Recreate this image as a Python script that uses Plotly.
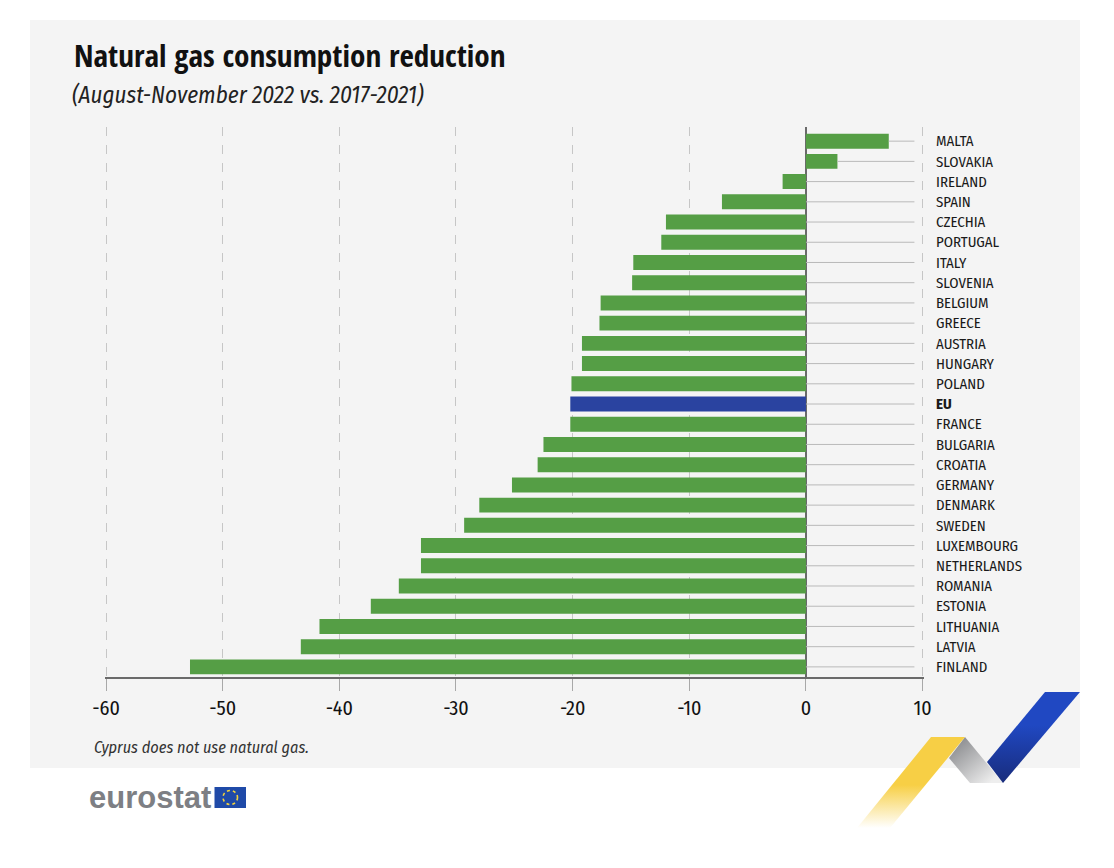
import base64
import plotly.graph_objects as go

categories = ["MALTA", "SLOVAKIA", "IRELAND", "SPAIN", "CZECHIA", "PORTUGAL", "ITALY", "SLOVENIA",
              "BELGIUM", "GREECE", "AUSTRIA", "HUNGARY", "POLAND", "EU", "FRANCE", "BULGARIA",
              "CROATIA", "GERMANY", "DENMARK", "SWEDEN", "LUXEMBOURG", "NETHERLANDS", "ROMANIA",
              "ESTONIA", "LITHUANIA", "LATVIA", "FINLAND"]
values = [7.1, 2.7, -2.0, -7.2, -12.0, -12.4, -14.8, -14.9,
          -17.6, -17.7, -19.2, -19.2, -20.1, -20.2, -20.2, -22.5,
          -23.0, -25.2, -28.0, -29.3, -33.0, -33.0, -34.9,
          -37.3, -41.7, -43.3, -52.8]
x_ticks = [-60, -50, -40, -30, -20, -10, 0, 10]
leader_end = 9.3

W, H = 1114, 868
TITLE_FONT = "Open Sans Condensed"
FONT = "Fira Sans Condensed, Roboto Condensed, sans-serif"
GREEN, BLUE = "#559e45", "#2a43a0"


def px(x):
    return x / W


def py(y):
    return 1 - y / H


bar_colors = [BLUE if c == "EU" else GREEN for c in categories]
tick_text = ["<b>EU</b>" if c == "EU" else c for c in categories]

leader_x, leader_y = [], []
for c, v in zip(categories, values):
    leader_x += [max(v, 0), leader_end, None]
    leader_y += [c, c, None]

fig = go.Figure()
fig.add_trace(go.Scatter(x=leader_x, y=leader_y, mode="lines", hoverinfo="skip",
                         line=dict(color="#b9b9b9", width=1), showlegend=False))
fig.add_trace(go.Bar(x=values, y=categories, orientation="h", marker=dict(color=bar_colors, line_width=0),
                     width=0.74, showlegend=False))

ribbons = f'''<svg xmlns="http://www.w3.org/2000/svg" width="{W}" height="{H}" viewBox="0 0 {W} {H}">
<defs>
<linearGradient id="y" gradientUnits="userSpaceOnUse" x1="0" y1="785" x2="0" y2="828">
<stop offset="0" stop-color="#f7cf45"/><stop offset="1" stop-color="#f7cf45" stop-opacity="0"/></linearGradient>
<linearGradient id="g" gradientUnits="userSpaceOnUse" x1="955" y1="742" x2="990" y2="783">
<stop offset="0" stop-color="#8b8c8f"/><stop offset="1" stop-color="#eeeeee"/></linearGradient>
<linearGradient id="b" gradientUnits="userSpaceOnUse" x1="0" y1="725" x2="0" y2="783">
<stop offset="0" stop-color="#2048c2"/><stop offset="1" stop-color="#182c7c"/></linearGradient>
</defs>
<polygon points="965,737 949,758 970,783 1003,783" fill="url(#g)"/>
<polygon points="931,737 965,737 890,828 857,828" fill="url(#y)"/>
<polygon points="1045,692 1080,692 1003,783 987,762" fill="url(#b)"/>
</svg>'''
ribbon_src = "data:image/svg+xml;base64," + base64.b64encode(ribbons.encode()).decode()


def label(text, x, y, size, color="#1a1a1a", family=FONT):
    return dict(text=text, x=px(x), y=py(y), xref="paper", yref="paper", xanchor="left", yanchor="middle",
                showarrow=False, font=dict(family=family, size=size, color=color), align="left")


fig.update_layout(
    width=W, height=H, margin=dict(l=0, r=0, t=0, b=0, pad=0), autosize=False,
    paper_bgcolor="white", plot_bgcolor="rgba(0,0,0,0)", bargap=0.26,
    font=dict(family=FONT, color="#1a1a1a"),
    xaxis=dict(domain=[px(104.6), px(924)], range=[-60.12, 10.12], tickmode="array", tickvals=x_ticks,
               automargin=False, ticktext=[str(t) for t in x_ticks], ticks="outside", ticklen=12,
               tickcolor="#a8a8a8", tickwidth=1, tickfont=dict(size=20, color="#111111"), showgrid=True,
               gridcolor="#c6c6c6", griddash="dash", gridwidth=1, showline=True, linecolor="#6a6a6a",
               linewidth=1.5, zeroline=True, zerolinecolor="#6a6a6a", zerolinewidth=1.5),
    yaxis=dict(domain=[py(677), py(127)], range=[26.5, -0.7], type="category", categoryorder="array",
               categoryarray=categories, side="right", tickmode="array", tickvals=categories, automargin=False,
               ticktext=tick_text, ticks="", ticklabelstandoff=11, tickfont=dict(size=14.8, color="#1a1a1a"),
               showgrid=False, showline=False, zeroline=False),
    shapes=[
        dict(type="rect", xref="paper", yref="paper", x0=px(30), x1=px(1080), y0=py(768), y1=py(20),
             fillcolor="#f4f4f4", line_width=0, layer="below"),
        dict(type="rect", xref="paper", yref="paper", x0=px(214.5), x1=px(246), y0=py(808), y1=py(787),
             fillcolor="#1f4aa8", line_width=0),
        dict(type="circle", xref="paper", yref="paper", x0=px(223), x1=px(237.5), y0=py(804.5), y1=py(790.5),
             fillcolor="rgba(0,0,0,0)", line=dict(color="#f3d33c", width=1.6, dash="dot")),
    ],
    images=[dict(source=ribbon_src, xref="paper", yref="paper", x=0, y=1, sizex=1, sizey=1,
                 sizing="stretch", xanchor="left", yanchor="top", layer="above")],
    annotations=[
        label("<b>Natural gas consumption reduction</b>", 71.5, 55, 31.2, "#111111", TITLE_FONT),
        label("<i>(August-November 2022 vs. 2017-2021)</i>", 70, 95, 23, "#222222"),
        label("<i>Cyprus does not use natural gas.</i>", 92, 747, 16.2, "#333333"),
        dict(text="<b>eurostat</b>", x=px(87), y=py(797), xref="paper", yref="paper", xanchor="left",
             yanchor="middle", showarrow=False, font=dict(family="Liberation Sans", size=31, color="#7d7f84")),
    ],
)

fig.write_html("out.html", post_script="document.body.style.margin='0';", config={"displayModeBar": False})
